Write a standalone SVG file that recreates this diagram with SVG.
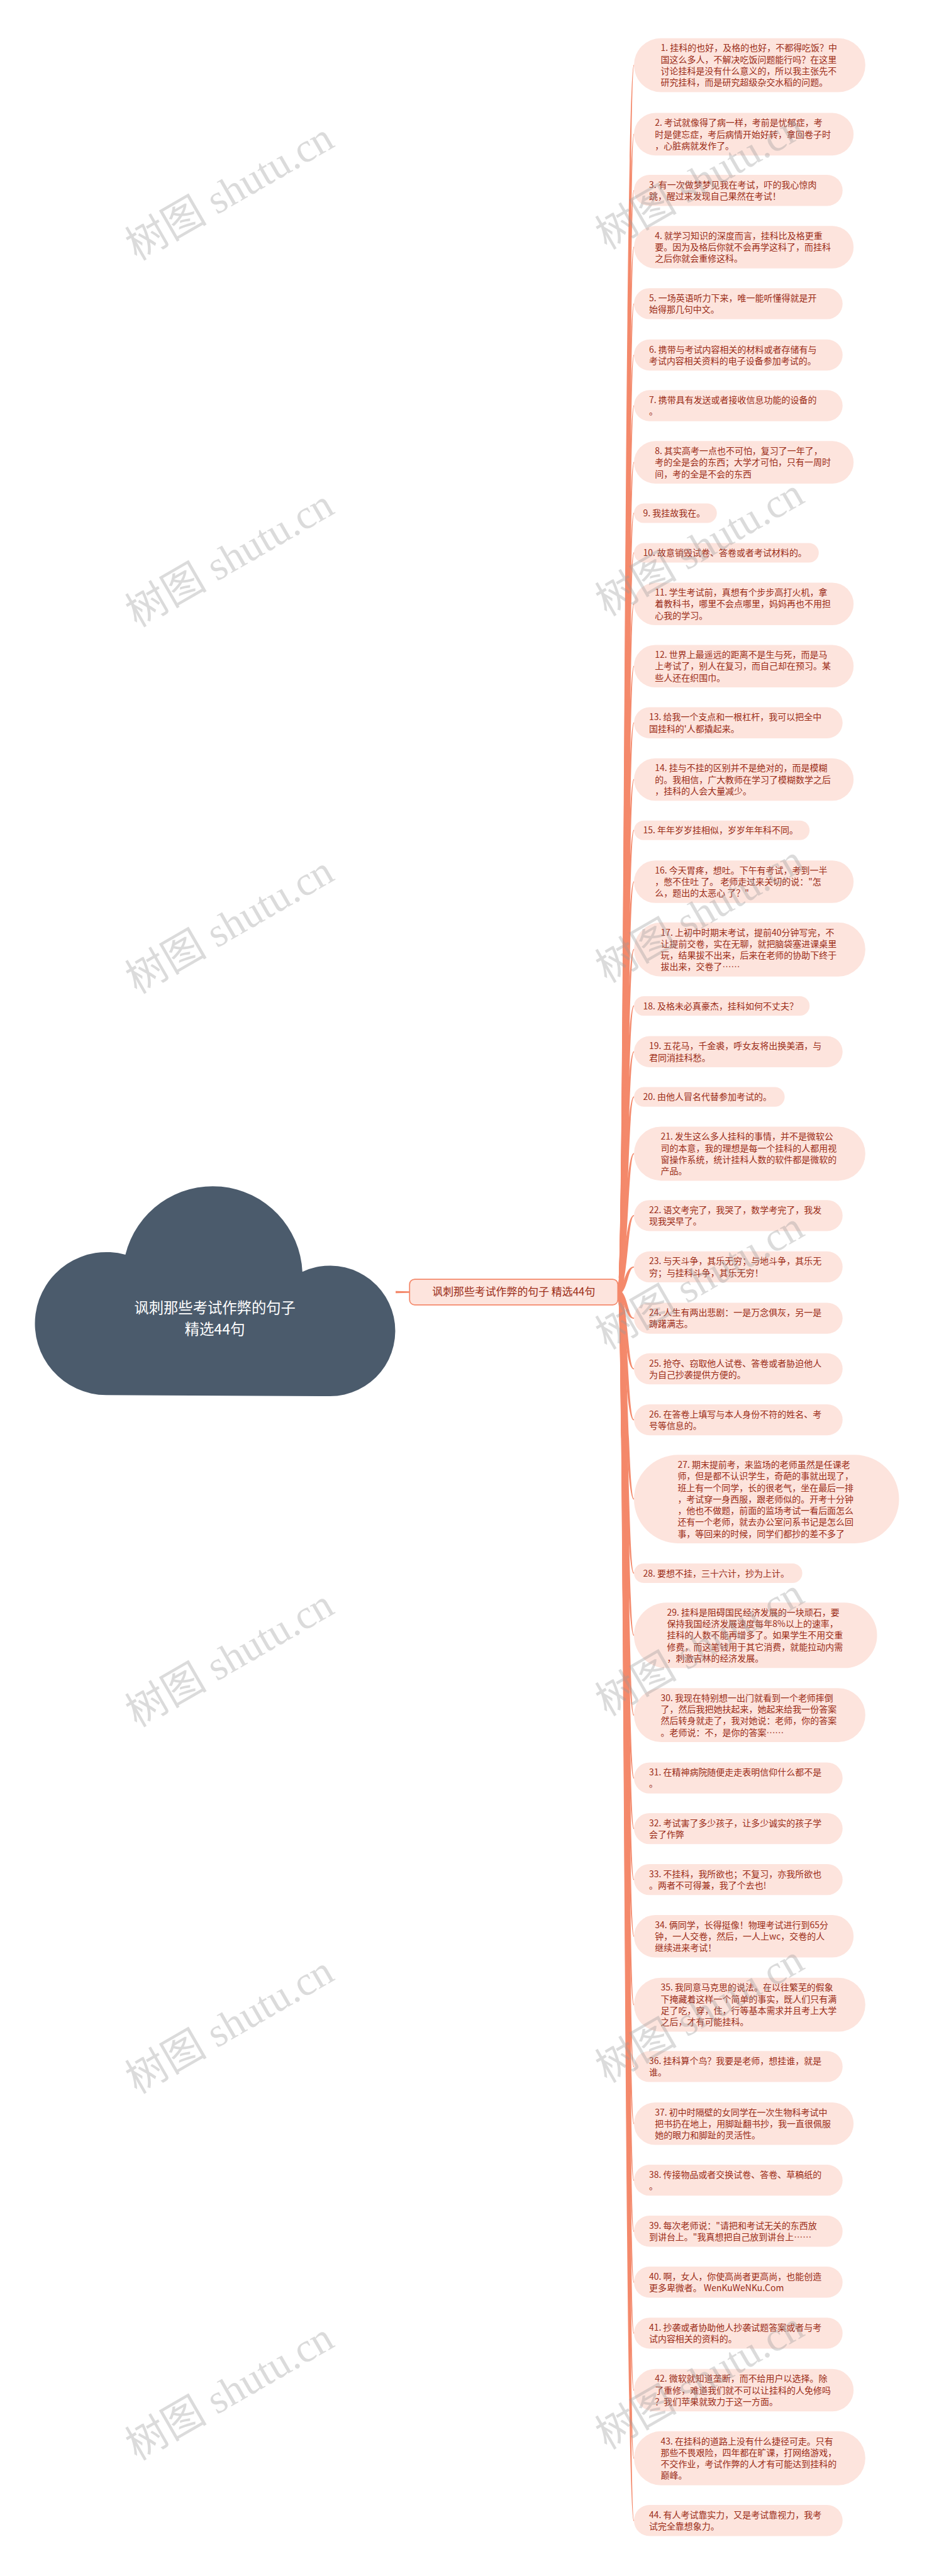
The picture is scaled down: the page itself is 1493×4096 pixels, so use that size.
<svg xmlns="http://www.w3.org/2000/svg" width="1493" height="4096" viewBox="0 0 1493 4096">
<style>
.leaf rect{fill:#fde4dd}
.leaf text{font-family:"Noto Sans CJK SC","Noto Sans",sans-serif;font-size:24px;fill:#9b2c17}
.conn path{fill:#f4896b;stroke:none}
.wm{font-family:"Liberation Serif","Noto Sans CJK SC",serif;font-size:112px;fill:#9a9a9a;opacity:0.35;text-anchor:middle}
</style>
<rect width="1493" height="4096" fill="#ffffff"/>
<g transform="scale(0.583)">
<g id="connectors" class="conn">
<path d="M1079 3521 L1117 3522 L1117 3526 L1079 3527 Z"/>
<path d="M1685 3518C1702 3518 1702 177.6 1729 176.1L1729 179.1C1712 177.6 1712 3530 1685 3530Z"/>
<path d="M1685 3518C1702 3518 1702 366 1729 364.5L1729 367.5C1712 366 1712 3530 1685 3530Z"/>
<path d="M1685 3518C1702 3518 1702 519.5 1729 518L1729 521C1712 519.5 1712 3530 1685 3530Z"/>
<path d="M1685 3518C1702 3518 1702 674 1729 672.5L1729 675.5C1712 674 1712 3530 1685 3530Z"/>
<path d="M1685 3518C1702 3518 1702 828.5 1729 827L1729 830C1712 828.5 1712 3530 1685 3530Z"/>
<path d="M1685 3518C1702 3518 1702 968.5 1729 967L1729 970C1712 968.5 1712 3530 1685 3530Z"/>
<path d="M1685 3518C1702 3518 1702 1106.5 1729 1105L1729 1108C1712 1106.5 1712 3530 1685 3530Z"/>
<path d="M1685 3518C1702 3518 1702 1261 1729 1259.5L1729 1262.5C1712 1261 1712 3530 1685 3530Z"/>
<path d="M1685 3518C1702 3518 1702 1399.5 1729 1398L1729 1401C1712 1399.5 1712 3530 1685 3530Z"/>
<path d="M1685 3518C1702 3518 1702 1507.5 1729 1506L1729 1509C1712 1507.5 1712 3530 1685 3530Z"/>
<path d="M1685 3518C1702 3518 1702 1647 1729 1645.5L1729 1648.5C1712 1647 1712 3530 1685 3530Z"/>
<path d="M1685 3518C1702 3518 1702 1817 1729 1815.5L1729 1818.5C1712 1817 1712 3530 1685 3530Z"/>
<path d="M1685 3518C1702 3518 1702 1971.5 1729 1970L1729 1973C1712 1971.5 1712 3530 1685 3530Z"/>
<path d="M1685 3518C1702 3518 1702 2126 1729 2124.5L1729 2127.5C1712 2126 1712 3530 1685 3530Z"/>
<path d="M1685 3518C1702 3518 1702 2264.5 1729 2263L1729 2266C1712 2264.5 1712 3530 1685 3530Z"/>
<path d="M1685 3518C1702 3518 1702 2405 1729 2403.5L1729 2406.5C1712 2405 1712 3530 1685 3530Z"/>
<path d="M1685 3518C1702 3518 1702 2589.6 1729 2588.1L1729 2591.1C1712 2589.6 1712 3530 1685 3530Z"/>
<path d="M1685 3518C1702 3518 1702 2743.5 1729 2742L1729 2745C1712 2743.5 1712 3530 1685 3530Z"/>
<path d="M1685 3518C1702 3518 1702 2868.5 1729 2867L1729 2870C1712 2868.5 1712 3530 1685 3530Z"/>
<path d="M1685 3518C1702 3518 1702 2991.5 1729 2990L1729 2993C1712 2991.5 1712 3530 1685 3530Z"/>
<path d="M1685 3518C1702 3518 1702 3146.6 1729 3145.1L1729 3148.1C1712 3146.6 1712 3530 1685 3530Z"/>
<path d="M1685 3518C1702 3518 1702 3315.5 1729 3314L1729 3317C1712 3315.5 1712 3530 1685 3530Z"/>
<path d="M1685 3518C1702 3518 1702 3455.5 1729 3454L1729 3457C1712 3455.5 1712 3530 1685 3530Z"/>
<path d="M1685 3518C1712 3518 1712 3595.5 1729 3594L1729 3597C1702 3595.5 1702 3530 1685 3530Z"/>
<path d="M1685 3518C1712 3518 1712 3733.5 1729 3732L1729 3735C1702 3733.5 1702 3530 1685 3530Z"/>
<path d="M1685 3518C1712 3518 1712 3872.5 1729 3871L1729 3874C1702 3872.5 1702 3530 1685 3530Z"/>
<path d="M1685 3518C1712 3518 1712 4088.5 1729 4087L1729 4090C1702 4088.5 1702 3530 1685 3530Z"/>
<path d="M1685 3518C1712 3518 1712 4290.5 1729 4289L1729 4292C1702 4290.5 1702 3530 1685 3530Z"/>
<path d="M1685 3518C1712 3518 1712 4460 1729 4458.5L1729 4461.5C1702 4460 1702 3530 1685 3530Z"/>
<path d="M1685 3518C1712 3518 1712 4677.6 1729 4676.1L1729 4679.1C1702 4677.6 1702 3530 1685 3530Z"/>
<path d="M1685 3518C1712 3518 1712 4849.5 1729 4848L1729 4851C1702 4849.5 1702 3530 1685 3530Z"/>
<path d="M1685 3518C1712 3518 1712 4987.5 1729 4986L1729 4989C1702 4987.5 1702 3530 1685 3530Z"/>
<path d="M1685 3518C1712 3518 1712 5126.5 1729 5125L1729 5128C1702 5126.5 1702 3530 1685 3530Z"/>
<path d="M1685 3518C1712 3518 1712 5281 1729 5279.5L1729 5282.5C1702 5281 1702 3530 1685 3530Z"/>
<path d="M1685 3518C1712 3518 1712 5467.6 1729 5466.1L1729 5469.1C1702 5467.6 1702 3530 1685 3530Z"/>
<path d="M1685 3518C1712 3518 1712 5636.5 1729 5635L1729 5638C1702 5636.5 1702 3530 1685 3530Z"/>
<path d="M1685 3518C1712 3518 1712 5792 1729 5790.5L1729 5793.5C1702 5792 1702 3530 1685 3530Z"/>
<path d="M1685 3518C1712 3518 1712 5946.5 1729 5945L1729 5948C1702 5946.5 1702 3530 1685 3530Z"/>
<path d="M1685 3518C1712 3518 1712 6085.5 1729 6084L1729 6087C1702 6085.5 1702 3530 1685 3530Z"/>
<path d="M1685 3518C1712 3518 1712 6224.5 1729 6223L1729 6226C1702 6224.5 1702 3530 1685 3530Z"/>
<path d="M1685 3518C1712 3518 1712 6363.5 1729 6362L1729 6365C1702 6363.5 1702 3530 1685 3530Z"/>
<path d="M1685 3518C1712 3518 1712 6519 1729 6517.5L1729 6520.5C1702 6519 1702 3530 1685 3530Z"/>
<path d="M1685 3518C1712 3518 1712 6704.6 1729 6703.1L1729 6706.1C1702 6704.6 1702 3530 1685 3530Z"/>
<path d="M1685 3518C1712 3518 1712 6874.5 1729 6873L1729 6876C1702 6874.5 1702 3530 1685 3530Z"/>
</g>

<g id="root">
<path d="M290 3805 A195 195 0 1 1 342 3422 A245 245 0 0 1 824.7 3468.7 A178 178 0 1 1 900 3808 Z" fill="#4b5b6c"/>
<text x="586" y="3581" font-family="Noto Sans CJK SC, sans-serif" font-size="40" fill="#ffffff" text-anchor="middle">讽刺那些考试作弊的句子</text>
<text x="586" y="3639" font-family="Noto Sans CJK SC, sans-serif" font-size="40" fill="#ffffff" text-anchor="middle">精选44句</text>
</g>

<g id="center">
<rect x="1117" y="3489" width="568" height="70" rx="14" fill="#fde4dd" stroke="#f4896b" stroke-width="3"/>
<text x="1401" y="3534" font-family="Noto Sans CJK SC, sans-serif" font-size="29" fill="#9b2c17" text-anchor="middle">讽刺那些考试作弊的句子 精选44句</text>
</g>

<g id="n1" class="leaf"><rect x="1729" y="104" width="631" height="147.2" rx="73.6"/><text x="1802" y="139.5">1. 挂科的也好，及格的也好，不都得吃饭？中</text><text x="1802" y="170.8">国这么多人，不解决吃饭问题能行吗？在这里</text><text x="1802" y="202.1">讨论挂科是没有什么意义的，所以我主张先不</text><text x="1802" y="233.4">研究挂科，而是研究超级杂交水稻的问题。</text></g>
<g id="n2" class="leaf"><rect x="1729" y="308" width="599" height="115.9" rx="58"/><text x="1786" y="343.5">2. 考试就像得了病一样，考前是忧郁症，考</text><text x="1786" y="374.8">时是健忘症，考后病情开始好转，拿回卷子时</text><text x="1786" y="406.1">，心脏病就发作了。</text></g>
<g id="n3" class="leaf"><rect x="1729" y="477" width="569" height="84.6" rx="42.3"/><text x="1770" y="512.5">3. 有一次做梦梦见我在考试，吓的我心惊肉</text><text x="1770" y="543.8">跳，醒过来发现自己果然在考试！</text></g>
<g id="n4" class="leaf"><rect x="1729" y="616" width="599" height="115.9" rx="58"/><text x="1786" y="651.5">4. 就学习知识的深度而言，挂科比及格更重</text><text x="1786" y="682.8">要。因为及格后你就不会再学这科了，而挂科</text><text x="1786" y="714.1">之后你就会重修这科。</text></g>
<g id="n5" class="leaf"><rect x="1729" y="786" width="569" height="84.6" rx="42.3"/><text x="1770" y="821.5">5. 一场英语听力下来，唯一能听懂得就是开</text><text x="1770" y="852.8">始得那几句中文。</text></g>
<g id="n6" class="leaf"><rect x="1729" y="926" width="569" height="84.6" rx="42.3"/><text x="1770" y="961.5">6. 携带与考试内容相关的材料或者存储有与</text><text x="1770" y="992.8">考试内容相关资料的电子设备参加考试的。</text></g>
<g id="n7" class="leaf"><rect x="1729" y="1064" width="569" height="84.6" rx="42.3"/><text x="1770" y="1099.5">7. 携带具有发送或者接收信息功能的设备的</text><text x="1770" y="1130.8">。</text></g>
<g id="n8" class="leaf"><rect x="1729" y="1203" width="599" height="115.9" rx="58"/><text x="1786" y="1238.5">8. 其实高考一点也不可怕，复习了一年了，</text><text x="1786" y="1269.8">考的全是会的东西；大学才可怕，只有一周时</text><text x="1786" y="1301.1">间，考的全是不会的东西</text></g>
<g id="n9" class="leaf"><rect x="1729" y="1373" width="226" height="53.3" rx="26.6"/><text x="1754" y="1408.5">9. 我挂故我在。</text></g>
<g id="n10" class="leaf"><rect x="1729" y="1481" width="504" height="53.3" rx="26.6"/><text x="1754" y="1516.5">10. 故意销毁试卷、答卷或者考试材料的。</text></g>
<g id="n11" class="leaf"><rect x="1729" y="1589" width="599" height="115.9" rx="58"/><text x="1786" y="1624.5">11. 学生考试前，真想有个步步高打火机，拿</text><text x="1786" y="1655.8">着教科书，哪里不会点哪里，妈妈再也不用担</text><text x="1786" y="1687.1">心我的学习。</text></g>
<g id="n12" class="leaf"><rect x="1729" y="1759" width="599" height="115.9" rx="58"/><text x="1786" y="1794.5">12. 世界上最遥远的距离不是生与死，而是马</text><text x="1786" y="1825.8">上考试了，别人在复习，而自己却在预习。某</text><text x="1786" y="1857.1">些人还在织围巾。</text></g>
<g id="n13" class="leaf"><rect x="1729" y="1929" width="569" height="84.6" rx="42.3"/><text x="1770" y="1964.5">13. 给我一个支点和一根杠杆，我可以把全中</text><text x="1770" y="1995.8">国挂科的'人都撬起来。</text></g>
<g id="n14" class="leaf"><rect x="1729" y="2068" width="599" height="115.9" rx="58"/><text x="1786" y="2103.5">14. 挂与不挂的区别并不是绝对的，而是模糊</text><text x="1786" y="2134.8">的。我相信，广大教师在学习了模糊数学之后</text><text x="1786" y="2166.1">，挂科的人会大量减少。</text></g>
<g id="n15" class="leaf"><rect x="1729" y="2238" width="479" height="53.3" rx="26.6"/><text x="1754" y="2273.5">15. 年年岁岁挂相似，岁岁年年科不同。</text></g>
<g id="n16" class="leaf"><rect x="1729" y="2347" width="599" height="115.9" rx="58"/><text x="1786" y="2382.5">16. 今天胃疼，想吐。下午有考试，考到一半</text><text x="1786" y="2413.8">，憋不住吐 了。 老师走过来关切的说："怎</text><text x="1786" y="2445.1">么，题出的太恶心 了？"</text></g>
<g id="n17" class="leaf"><rect x="1729" y="2516" width="631" height="147.2" rx="73.6"/><text x="1802" y="2551.5">17. 上初中时期末考试，提前40分钟写完，不</text><text x="1802" y="2582.8">让提前交卷，实在无聊，就把脑袋塞进课桌里</text><text x="1802" y="2614.1">玩，结果拔不出来，后来在老师的协助下终于</text><text x="1802" y="2645.4">拔出来，交卷了……</text></g>
<g id="n18" class="leaf"><rect x="1729" y="2717" width="479" height="53.3" rx="26.6"/><text x="1754" y="2752.5">18. 及格未必真豪杰，挂科如何不丈夫？</text></g>
<g id="n19" class="leaf"><rect x="1729" y="2826" width="569" height="84.6" rx="42.3"/><text x="1770" y="2861.5">19. 五花马，千金裘，呼女友将出换美酒，与</text><text x="1770" y="2892.8">君同消挂科愁。</text></g>
<g id="n20" class="leaf"><rect x="1729" y="2965" width="411" height="53.3" rx="26.6"/><text x="1754" y="3000.5">20. 由他人冒名代替参加考试的。</text></g>
<g id="n21" class="leaf"><rect x="1729" y="3073" width="631" height="147.2" rx="73.6"/><text x="1802" y="3108.5">21. 发生这么多人挂科的事情，并不是微软公</text><text x="1802" y="3139.8">司的本意，我的理想是每一个挂科的人都用视</text><text x="1802" y="3171.1">窗操作系统，统计挂科人数的软件都是微软的</text><text x="1802" y="3202.4">产品。</text></g>
<g id="n22" class="leaf"><rect x="1729" y="3273" width="569" height="84.6" rx="42.3"/><text x="1770" y="3308.5">22. 语文考完了，我哭了，数学考完了，我发</text><text x="1770" y="3339.8">现我哭早了。</text></g>
<g id="n23" class="leaf"><rect x="1729" y="3413" width="569" height="84.6" rx="42.3"/><text x="1770" y="3448.5">23. 与天斗争，其乐无穷；与地斗争，其乐无</text><text x="1770" y="3479.8">穷；与挂科斗争，其乐无穷！</text></g>
<g id="n24" class="leaf"><rect x="1729" y="3553" width="569" height="84.6" rx="42.3"/><text x="1770" y="3588.5">24. 人生有两出悲剧：一是万念俱灰，另一是</text><text x="1770" y="3619.8">踌躇满志。</text></g>
<g id="n25" class="leaf"><rect x="1729" y="3691" width="569" height="84.6" rx="42.3"/><text x="1770" y="3726.5">25. 抢夺、窃取他人试卷、答卷或者胁迫他人</text><text x="1770" y="3757.8">为自己抄袭提供方便的。</text></g>
<g id="n26" class="leaf"><rect x="1729" y="3830" width="569" height="84.6" rx="42.3"/><text x="1770" y="3865.5">26. 在答卷上填写与本人身份不符的姓名、考</text><text x="1770" y="3896.8">号等信息的。</text></g>
<g id="n27" class="leaf"><rect x="1729" y="3968" width="723" height="241.1" rx="120.5"/><text x="1848" y="4003.5">27. 期末提前考，来监场的老师虽然是任课老</text><text x="1848" y="4034.8">师，但是都不认识学生，奇葩的事就出现了，</text><text x="1848" y="4066.1">班上有一个同学，长的很老气，坐在最后一排</text><text x="1848" y="4097.4">，考试穿一身西服，跟老师似的。开考十分钟</text><text x="1848" y="4128.7">，他也不做题，前面的监场考试一看后面怎么</text><text x="1848" y="4160">还有一个老师，就去办公室问系书记是怎么回</text><text x="1848" y="4191.3">事，等回来的时候，同学们都抄的差不多了</text></g>
<g id="n28" class="leaf"><rect x="1729" y="4264" width="459" height="53.3" rx="26.6"/><text x="1754" y="4299.5">28. 要想不挂，三十六计，抄为上计。</text></g>
<g id="n29" class="leaf"><rect x="1729" y="4371" width="663" height="178.5" rx="89"/><text x="1819" y="4406.5">29. 挂科是阻碍国民经济发展的一块顽石，要</text><text x="1819" y="4437.8">保持我国经济发展速度每年8%以上的速率，</text><text x="1819" y="4469.1">挂科的人数不能再增多了。如果学生不用交重</text><text x="1819" y="4500.4">修费，而这笔钱用于其它消费，就能拉动内需</text><text x="1819" y="4531.7">，刺激吉林的经济发展。</text></g>
<g id="n30" class="leaf"><rect x="1729" y="4604" width="631" height="147.2" rx="73.6"/><text x="1802" y="4639.5">30. 我现在特别想一出门就看到一个老师摔倒</text><text x="1802" y="4670.8">了，然后我把她扶起来，她起来给我一份答案</text><text x="1802" y="4702.1">然后转身就走了，我对她说：老师，你的答案</text><text x="1802" y="4733.4">。老师说：不，是你的答案……</text></g>
<g id="n31" class="leaf"><rect x="1729" y="4807" width="569" height="84.6" rx="42.3"/><text x="1770" y="4842.5">31. 在精神病院随便走走表明信仰什么都不是</text><text x="1770" y="4873.8">。</text></g>
<g id="n32" class="leaf"><rect x="1729" y="4945" width="569" height="84.6" rx="42.3"/><text x="1770" y="4980.5">32. 考试害了多少孩子，让多少诚实的孩子学</text><text x="1770" y="5011.8">会了作弊</text></g>
<g id="n33" class="leaf"><rect x="1729" y="5084" width="569" height="84.6" rx="42.3"/><text x="1770" y="5119.5">33. 不挂科，我所欲也；不复习，亦我所欲也</text><text x="1770" y="5150.8">。两者不可得兼，我了个去也!</text></g>
<g id="n34" class="leaf"><rect x="1729" y="5223" width="599" height="115.9" rx="58"/><text x="1786" y="5258.5">34. 俩同学，长得挺像！物理考试进行到65分</text><text x="1786" y="5289.8">钟，一人交卷，然后，一人上wc，交卷的人</text><text x="1786" y="5321.1">继续进来考试！</text></g>
<g id="n35" class="leaf"><rect x="1729" y="5394" width="631" height="147.2" rx="73.6"/><text x="1802" y="5429.5">35. 我同意马克思的说法。在以往繁芜的假象</text><text x="1802" y="5460.8">下掩藏着这样一个简单的事实，既人们只有满</text><text x="1802" y="5492.1">足了吃，穿，住，行等基本需求并且考上大学</text><text x="1802" y="5523.4">之后，才有可能挂科。</text></g>
<g id="n36" class="leaf"><rect x="1729" y="5594" width="569" height="84.6" rx="42.3"/><text x="1770" y="5629.5">36. 挂科算个鸟？我要是老师，想挂谁，就是</text><text x="1770" y="5660.8">谁。</text></g>
<g id="n37" class="leaf"><rect x="1729" y="5734" width="599" height="115.9" rx="58"/><text x="1786" y="5769.5">37. 初中时隔壁的女同学在一次生物科考试中</text><text x="1786" y="5800.8">把书扔在地上，用脚趾翻书抄，我一直很佩服</text><text x="1786" y="5832.1">她的眼力和脚趾的灵活性。</text></g>
<g id="n38" class="leaf"><rect x="1729" y="5904" width="569" height="84.6" rx="42.3"/><text x="1770" y="5939.5">38. 传接物品或者交换试卷、答卷、草稿纸的</text><text x="1770" y="5970.8">。</text></g>
<g id="n39" class="leaf"><rect x="1729" y="6043" width="569" height="84.6" rx="42.3"/><text x="1770" y="6078.5">39. 每次老师说："请把和考试无关的东西放</text><text x="1770" y="6109.8">到讲台上。"我真想把自己放到讲台上……</text></g>
<g id="n40" class="leaf"><rect x="1729" y="6182" width="569" height="84.6" rx="42.3"/><text x="1770" y="6217.5">40. 啊，女人，你使高尚者更高尚，也能创造</text><text x="1770" y="6248.8">更多卑微者。 WenKuWeNKu.Com</text></g>
<g id="n41" class="leaf"><rect x="1729" y="6321" width="569" height="84.6" rx="42.3"/><text x="1770" y="6356.5">41. 抄袭或者协助他人抄袭试题答案或者与考</text><text x="1770" y="6387.8">试内容相关的资料的。</text></g>
<g id="n42" class="leaf"><rect x="1729" y="6461" width="599" height="115.9" rx="58"/><text x="1786" y="6496.5">42. 微软就知道垄断，而不给用户以选择。除</text><text x="1786" y="6527.8">了重修，难道我们就不可以让挂科的人免修吗</text><text x="1786" y="6559.1">？我们苹果就致力于这一方面。</text></g>
<g id="n43" class="leaf"><rect x="1729" y="6631" width="631" height="147.2" rx="73.6"/><text x="1802" y="6666.5">43. 在挂科的道路上没有什么捷径可走。只有</text><text x="1802" y="6697.8">那些不畏艰险，四年都在旷课，打网络游戏，</text><text x="1802" y="6729.1">不交作业，考试作弊的人才有可能达到挂科的</text><text x="1802" y="6760.4">巅峰。</text></g>
<g id="n44" class="leaf"><rect x="1729" y="6832" width="569" height="84.6" rx="42.3"/><text x="1770" y="6867.5">44. 有人考试靠实力，又是考试靠视力，我考</text><text x="1770" y="6898.8">试完全靠想象力。</text></g>

<g id="watermarks">
<text class="wm" transform="translate(1927 525) rotate(-30)">树图 shutu.cn</text>
<text class="wm" transform="translate(1927 1525) rotate(-30)">树图 shutu.cn</text>
<text class="wm" transform="translate(1927 2525) rotate(-30)">树图 shutu.cn</text>
<text class="wm" transform="translate(1927 3525) rotate(-30)">树图 shutu.cn</text>
<text class="wm" transform="translate(1927 4525) rotate(-30)">树图 shutu.cn</text>
<text class="wm" transform="translate(1927 5525) rotate(-30)">树图 shutu.cn</text>
<text class="wm" transform="translate(1927 6525) rotate(-30)">树图 shutu.cn</text>
<text class="wm" transform="translate(645 555) rotate(-30)">树图 shutu.cn</text>
<text class="wm" transform="translate(645 1555) rotate(-30)">树图 shutu.cn</text>
<text class="wm" transform="translate(645 2555) rotate(-30)">树图 shutu.cn</text>
<text class="wm" transform="translate(645 4555) rotate(-30)">树图 shutu.cn</text>
<text class="wm" transform="translate(645 5555) rotate(-30)">树图 shutu.cn</text>
<text class="wm" transform="translate(645 6555) rotate(-30)">树图 shutu.cn</text>
</g>
</g>
</svg>
